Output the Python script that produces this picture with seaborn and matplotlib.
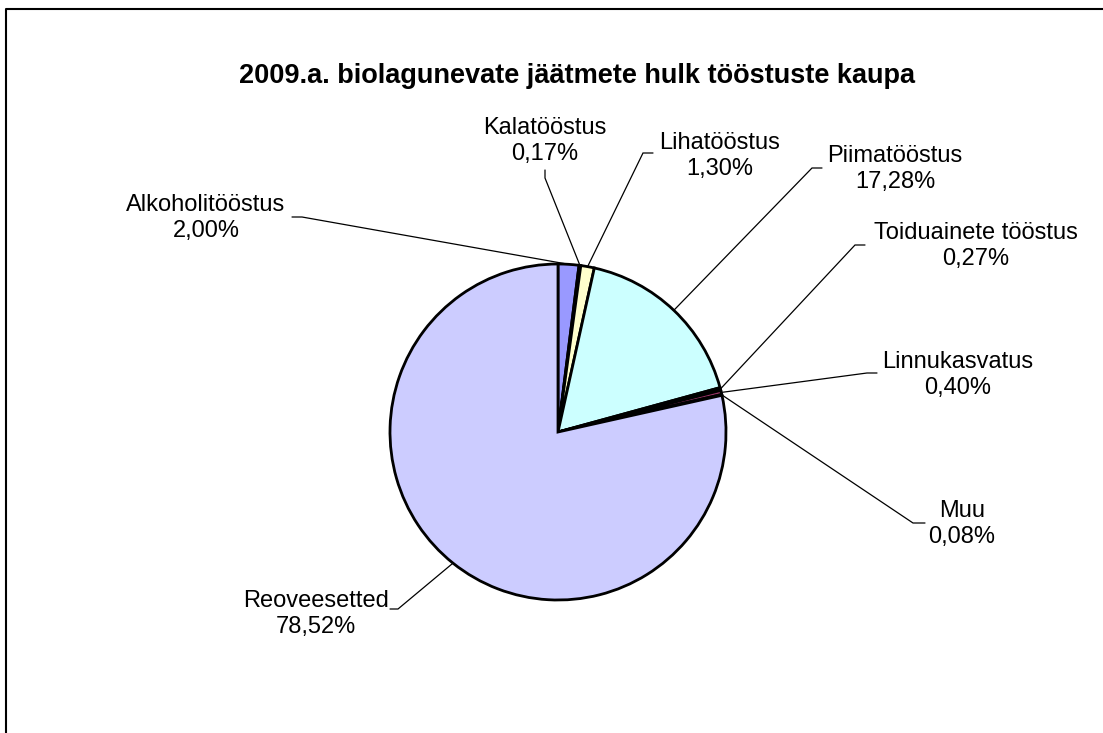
import numpy as np
import matplotlib
matplotlib.use("Agg")
import matplotlib.pyplot as plt
import seaborn as sns

sns.set_theme(style="white")
plt.rcParams['font.family'] = ['Liberation Sans', 'DejaVu Sans']

# --- Data ---
categories = ['Alkoholitööstus', 'Kalatööstus', 'Lihatööstus', 'Piimatööstus',
              'Toiduainete tööstus', 'Linnukasvatus', 'Muu', 'Reoveesetted']
shares = [2.00, 0.17, 1.30, 17.28, 0.27, 0.40, 0.08, 78.52]
share_labels = ['2,00%', '0,17%', '1,30%', '17,28%', '0,27%', '0,40%', '0,08%', '78,52%']
colors = ['#9999FF', '#993366', '#FFFFCC', '#CCFFFF', '#660066', '#993366', '#0066CC', '#CCCCFF']

# label text centre (px), image coordinates (y down)
label_pos = [(206, 218), (545, 141), (720, 156), (895, 169),
             (976, 246), (958, 375), (962, 524), (316, 614)]
# leader line: short tail near the label, then elbow -> wedge
leader_tail = [(292, 217), (545, 170), (653, 153), (822, 168),
               (865, 245), (877, 373), (925, 523), (390, 609)]
leader_elbow = [(302, 217), (545, 178), (643, 153), (812, 168),
                (855, 245), (867, 373), (913, 523), (398, 609)]

W, H = 1103, 733
fig = plt.figure(figsize=(W / 100, H / 100), dpi=100)
ax = fig.add_axes([0, 0, 1, 1])

cx, cy, r = 558, H - 432, 168
wedges, _ = ax.pie(shares, colors=colors, startangle=90, counterclock=False,
                   center=(cx, cy), radius=r, frame=True,
                   wedgeprops=dict(edgecolor='black', linewidth=2.0))
ax.set_xlim(0, W)
ax.set_ylim(0, H)
ax.set_aspect('equal')
ax.axis('off')

for w, name, pct, (tx, ty), (ax0, ay0), (ex0, ey0) in zip(
        wedges, categories, share_labels, label_pos, leader_tail, leader_elbow):
    mid = np.deg2rad((w.theta1 + w.theta2) / 2)
    wx, wy = cx + r * np.cos(mid), cy + r * np.sin(mid)
    ax.plot([ax0, ex0, wx], [H - ay0, H - ey0, wy], color='black',
            linewidth=0.9, solid_joinstyle='miter')
    ax.text(tx, H - ty, f"{name}\n{pct}", ha='center', va='center',
            fontsize=17, linespacing=1.2, color='black')

ax.text(577, H - 76, '2009.a. biolagunevate jäätmete hulk tööstuste kaupa',
        ha='center', va='center', fontsize=19.5, fontweight='bold',
        color='black')

# chart frame (cropped at right and bottom)
ax.plot([6, 6, W + 5], [-5, H - 9, H - 9], color='black', linewidth=1.5,
        clip_on=False)

fig.savefig('out.png', dpi=100)
